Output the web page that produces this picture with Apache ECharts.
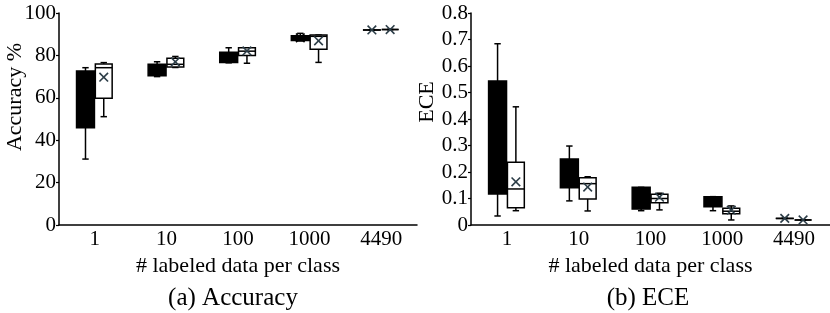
<!DOCTYPE html>
<html>
<head>
<meta charset="utf-8">
<script src="https://cdn.jsdelivr.net/npm/echarts@6/dist/echarts.min.js"></script>
<style>
  html, body { margin: 0; padding: 0; background: #fff; }
  #chart { width: 830px; height: 313px; }
</style>
</head>
<body>
<div id="chart"></div>
<script>
// ---------- data ----------
const categories = ['1', '10', '100', '1000', '4490'];

// each row: [min, Q1, median, Q3, max, mean]
const accuracyFilled = [
  [31.1, 45.9, 60.0, 72.6, 74.2, 58.0],
  [70.0, 70.4, 73.0, 75.8, 77.0, 73.0],
  [76.5, 76.7, 79.0, 81.5, 83.6, 79.3],
  [86.8, 87.0, 88.0, 89.3, 90.4, 88.3],
  [92.0, 92.0, 92.0, 92.0, 92.0, 92.0]
];
const accuracyOpen = [
  [51.1, 59.8, 74.2, 76.0, 76.6, 69.7],
  [74.3, 74.5, 75.8, 78.6, 79.5, 77.0],
  [76.3, 79.9, 82.0, 83.6, 83.6, 82.1],
  [76.7, 82.9, 89.0, 89.6, 89.6, 86.9],
  [92.2, 92.2, 92.2, 92.2, 92.2, 92.2]
];
const eceFilled = [
  [0.034, 0.117, 0.300, 0.543, 0.684, 0.330],
  [0.091, 0.141, 0.200, 0.249, 0.298, 0.200],
  [0.054, 0.060, 0.100, 0.142, 0.142, 0.100],
  [0.054, 0.069, 0.090, 0.107, 0.107, 0.088],
  [0.025, 0.025, 0.025, 0.025, 0.025, 0.025]
];
const eceOpen = [
  [0.054, 0.065, 0.136, 0.237, 0.446, 0.163],
  [0.053, 0.098, 0.156, 0.178, 0.182, 0.143],
  [0.057, 0.084, 0.100, 0.116, 0.120, 0.105],
  [0.019, 0.042, 0.052, 0.063, 0.072, 0.056],
  [0.019, 0.019, 0.019, 0.019, 0.019, 0.019]
];

const accTicks = { min: 0, max: 100, interval: 20 };
const eceTicks = { min: 0, max: 0.8, interval: 0.1 };

// ---------- styling ----------
const FONT = "'Times New Roman', 'Liberation Serif', Tinos, 'DejaVu Serif', serif";
const MEAN_COLOR = '#2c3d47';

function toRows(arr) {
  return arr.map((r, i) => [i].concat(r));
}

function makeRender(offsetFrac, widthFrac, filled) {
  return function (params, api) {
    const idx = api.value(0);
    const vMin = api.value(1), q1 = api.value(2), med = api.value(3),
          q3 = api.value(4), vMax = api.value(5), mean = api.value(6);
    const band = api.size([1, 0])[0];
    const base = api.coord([idx, q1]);
    const cx = base[0] + offsetFrac * band;
    const w = widthFrac * band;
    const yMin = api.coord([idx, vMin])[1];
    const yQ1 = base[1];
    const yMed = api.coord([idx, med])[1];
    const yQ3 = api.coord([idx, q3])[1];
    const yMax = api.coord([idx, vMax])[1];
    const yMean = api.coord([idx, mean])[1];
    const cap = 3.2;
    const lw = 1.5;
    const lineStyle = { stroke: '#000', lineWidth: lw };
    const children = [
      { type: 'line', shape: { x1: cx, y1: yMax, x2: cx, y2: yQ3 }, style: lineStyle },
      { type: 'line', shape: { x1: cx, y1: yQ1, x2: cx, y2: yMin }, style: lineStyle },
      { type: 'line', shape: { x1: cx - cap, y1: yMax, x2: cx + cap, y2: yMax }, style: lineStyle },
      { type: 'line', shape: { x1: cx - cap, y1: yMin, x2: cx + cap, y2: yMin }, style: lineStyle },
      {
        type: 'rect',
        shape: { x: cx - w / 2, y: yQ3, width: w, height: Math.max(yQ1 - yQ3, 0) },
        style: { fill: filled ? '#000' : '#fff', stroke: '#000', lineWidth: lw }
      },
      { type: 'line', shape: { x1: cx - w / 2, y1: yMed, x2: cx + w / 2, y2: yMed }, style: lineStyle }
    ];
    const s = 4.3;
    const degenerate = q3 - q1 === 0;
    const xColor = (filled && !degenerate) ? '#000' : MEAN_COLOR;
    children.push({
      type: 'polyline',
      shape: { points: [[cx - s, yMean - s], [cx + s, yMean + s]] },
      style: { stroke: xColor, lineWidth: 1.6, fill: null }
    });
    children.push({
      type: 'polyline',
      shape: { points: [[cx - s, yMean + s], [cx + s, yMean - s]] },
      style: { stroke: xColor, lineWidth: 1.6, fill: null }
    });
    return { type: 'group', children: children };
  };
}

function xAxisCfg(gridIndex) {
  return {
    type: 'category',
    gridIndex: gridIndex,
    data: categories,
    boundaryGap: true,
    axisLine: { show: true, lineStyle: { color: '#000', width: 1.5 } },
    axisTick: { show: false },
    axisLabel: { color: '#000', fontFamily: FONT, fontSize: 21, margin: 4 },
    name: '# labeled data per class',
    nameLocation: 'middle',
    nameGap: 29,
    nameTextStyle: { color: '#000', fontFamily: FONT, fontSize: 22 },
    splitLine: { show: false }
  };
}

function yAxisCfg(gridIndex, t) {
  return {
    type: 'value',
    gridIndex: gridIndex,
    min: t.min, max: t.max, interval: t.interval,
    axisLine: { show: true, onZero: false, lineStyle: { color: '#000', width: 1.5 } },
    axisTick: { show: true, inside: false, length: 3, lineStyle: { color: '#000', width: 1.2 } },
    axisLabel: { color: '#000', fontFamily: FONT, fontSize: 21, margin: 3 },
    splitLine: { show: false }
  };
}

const BLACK_OFF = -0.13, BLACK_W = 0.25;
const WHITE_OFF = 0.125, WHITE_W = 0.235;

const chart = echarts.init(document.getElementById('chart'), null, { renderer: 'canvas' });
chart.setOption({
  animation: false,
  backgroundColor: '#fff',
  grid: [
    { left: 59, right: 413, top: 13, bottom: 88 },
    { left: 471, right: 0, top: 13, bottom: 88 }
  ],
  xAxis: [xAxisCfg(0), xAxisCfg(1)],
  yAxis: [yAxisCfg(0, accTicks), yAxisCfg(1, eceTicks)],
  series: [
    { type: 'custom', xAxisIndex: 0, yAxisIndex: 0, data: toRows(accuracyFilled),
      encode: { x: 0, y: [1, 2, 3, 4, 5, 6] }, renderItem: makeRender(BLACK_OFF, BLACK_W, true), clip: false },
    { type: 'custom', xAxisIndex: 0, yAxisIndex: 0, data: toRows(accuracyOpen),
      encode: { x: 0, y: [1, 2, 3, 4, 5, 6] }, renderItem: makeRender(WHITE_OFF, WHITE_W, false), clip: false },
    { type: 'custom', xAxisIndex: 1, yAxisIndex: 1, data: toRows(eceFilled),
      encode: { x: 0, y: [1, 2, 3, 4, 5, 6] }, renderItem: makeRender(BLACK_OFF, BLACK_W, true), clip: false },
    { type: 'custom', xAxisIndex: 1, yAxisIndex: 1, data: toRows(eceOpen),
      encode: { x: 0, y: [1, 2, 3, 4, 5, 6] }, renderItem: makeRender(WHITE_OFF, WHITE_W, false), clip: false }
  ],
  graphic: [
    { type: 'text', x: 15, y: 97, rotation: Math.PI / 2,
      style: { text: 'Accuracy %', font: '22px ' + FONT, fill: '#000', align: 'center', verticalAlign: 'middle' } },
    { type: 'text', x: 427, y: 102, rotation: Math.PI / 2,
      style: { text: 'ECE', font: '22px ' + FONT, fill: '#000', align: 'center', verticalAlign: 'middle' } },
    { type: 'text', x: 233, y: 298,
      style: { text: '(a) Accuracy', font: '25px ' + FONT, fill: '#000', align: 'center', verticalAlign: 'middle' } },
    { type: 'text', x: 648, y: 298,
      style: { text: '(b) ECE', font: '25px ' + FONT, fill: '#000', align: 'center', verticalAlign: 'middle' } }
  ]
});
</script>
</body>
</html>
